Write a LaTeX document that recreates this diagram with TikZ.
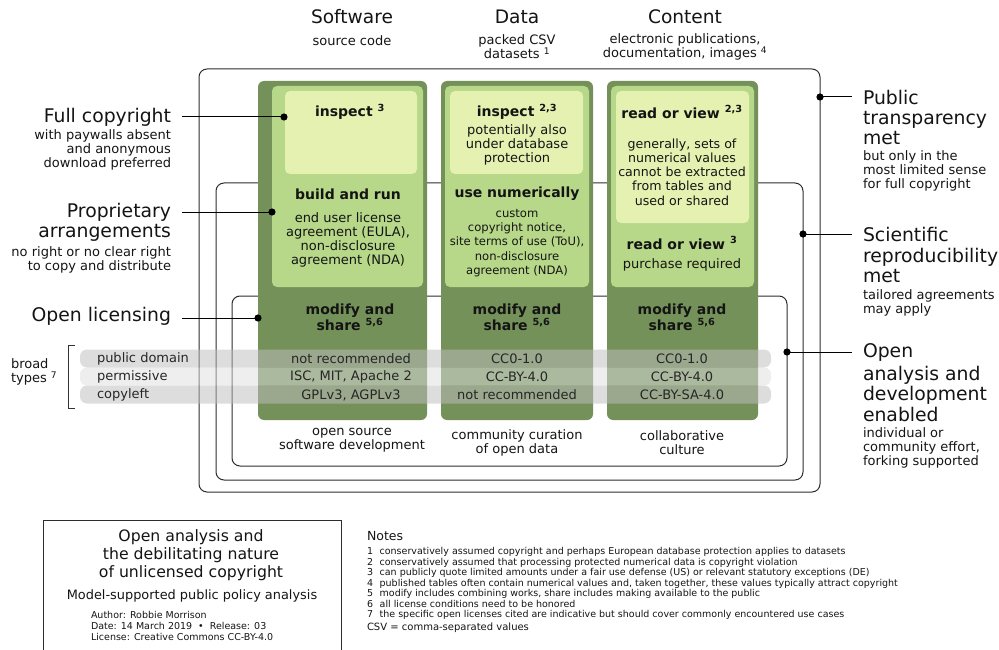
\documentclass[tikz,border=0pt]{standalone}
\usepackage{fontspec}
\setmainfont{DejaVu Sans}
\definecolor{darkgreen}{RGB}{117,145,90}
\definecolor{midgreen}{RGB}{183,216,137}
\definecolor{lightgreen}{RGB}{229,241,176}
\definecolor{framecol}{RGB}{45,45,45}
\definecolor{rowgray}{RGB}{190,190,190}
\definecolor{rowlight}{RGB}{222,222,222}
\definecolor{txt}{RGB}{20,20,20}
\begin{document}
\begin{tikzpicture}[x=1pt,y=-1pt,
  every node/.style={inner sep=0pt,outer sep=0pt,text=txt},
  frame/.style={draw=framecol,line width=1pt,rounded corners=8pt},
  darkbox/.style={fill=darkgreen,rounded corners=6pt},
  midbox/.style={fill=midgreen,rounded corners=5pt},
  lightbox/.style={fill=lightgreen,rounded corners=5pt},
  licrow/.style={fill=rowgray,fill opacity=0.52,rounded corners=7pt},
  licrowlight/.style={fill=rowlight,fill opacity=0.52,rounded corners=7pt},
  head/.style={font=\fontsize{18.6}{21}\selectfont},
  big/.style={font=\fontsize{18.8}{20.5}\selectfont},
  small/.style={font=\fontsize{13}{14}\selectfont,align=center},
  smallL/.style={font=\fontsize{13}{14}\selectfont,align=left},
  smallR/.style={font=\fontsize{13}{14}\selectfont,align=right},
  boxtitle/.style={font=\bfseries\fontsize{14}{15}\selectfont,align=center},
  rowtxt/.style={font=\fontsize{13}{14}\selectfont,text=black!85},
  conn/.style={draw=black,line width=1pt},
  dot/.style={fill=black}]
\useasboundingbox (0,0) rectangle (999,650);

% nested scopes: transparency, reproducibility, open analysis
\draw[frame] (199,69) rectangle (820,492);
\draw[frame] (216,183) rectangle (803,480);
\draw[frame] (232,296) rectangle (787,466);

% column headers
\node[head] (hsw) at (352,17) {Software};
\node[head] (hda) at (517,17) {Data};
\node[head] (hco) at (685,17) {Content};
\node[small] (ssw) at (352,41) {source code};
\node[small] (sda) at (517,47) {packed CSV\\datasets \textsuperscript{1}};
\node[small] (sco) at (685,47) {electronic publications,\\documentation, images \textsuperscript{4}};

% software column
\fill[darkbox] (258,81) rectangle (427,420);
\fill[midbox] (272,86) rectangle (423,287);
\fill[lightbox] (285,91) rectangle (417,174);
% data column
\fill[darkbox] (441,81) rectangle (593,420);
\fill[midbox] (445,86) rectangle (589,287);
\fill[lightbox] (450,91) rectangle (583,174);
% content column
\fill[darkbox] (607,81) rectangle (758,420);
\fill[midbox] (611,86) rectangle (754,287);
\fill[lightbox] (616,91) rectangle (749,223);

% software texts
\node[boxtitle] (sw1) at (350,112) {inspect \textsuperscript{3}};
\node[boxtitle] (sw2) at (348,194) {build and run};
\node[small] (sw3) at (348,240) {end user license\\agreement (EULA),\\non-disclosure\\agreement (NDA)};
\node[boxtitle] (sw4) at (350,317.5) {modify and\\share \textsuperscript{5,6}};
% data texts
\node[boxtitle] (da1) at (517,112) {inspect \textsuperscript{2,3}};
\node[small] (da2) at (517,145) {potentially also\\under database\\protection};
\node[boxtitle] (da3) at (517,194) {use numerically};
\node[font=\fontsize{11.6}{14.2}\selectfont,align=center] (da4) at (517,243) {custom\\copyright notice,\\site terms of use (ToU),\\non-disclosure\\agreement (NDA)};
\node[boxtitle] (da5) at (517,317.5) {modify and\\share \textsuperscript{5,6}};
% content texts
\node[boxtitle] (co1) at (682,112) {read or view \textsuperscript{2,3}};
\node[font=\fontsize{12.6}{14.2}\selectfont,align=center] (co2) at (682,172) {generally, sets of\\numerical values\\cannot be extracted\\from tables and\\used or shared};
\node[boxtitle] (co3) at (682,243) {read or view \textsuperscript{3}};
\node[small] (co4) at (682,265) {purchase required};
\node[boxtitle] (co5) at (682,317.5) {modify and\\share \textsuperscript{5,6}};

% licence type rows
\fill[licrow] (80,349.5) rectangle (771,367.5);
\fill[licrowlight] (80,367.5) rectangle (771,385.5);
\fill[licrow] (80,385.5) rectangle (771,403.5);
\node[rowtxt,anchor=west] (r1) at (97,359) {public domain};
\node[rowtxt,anchor=west] (r2) at (97,377) {permissive};
\node[rowtxt,anchor=west] (r3) at (97,395) {copyleft};
\node[rowtxt] (s1) at (351,359) {not recommended};
\node[rowtxt] (s2) at (351,377) {ISC, MIT, Apache 2};
\node[rowtxt] (s3) at (351,395) {GPLv3, AGPLv3};
\node[rowtxt] (d1) at (517,359) {CC0-1.0};
\node[rowtxt] (d2) at (517,377) {CC-BY-4.0};
\node[rowtxt] (d3) at (517,395) {not recommended};
\node[rowtxt] (c1) at (682,359) {CC0-1.0};
\node[rowtxt] (c2) at (682,377) {CC-BY-4.0};
\node[rowtxt] (c3) at (682,395) {CC-BY-SA-4.0};

% bracket for broad types
\draw[line width=1pt,draw=black!80] (75,345) -- (68,345) -- (68,408) -- (75,408);
\node[smallL,anchor=west] (bt) at (11,372) {broad\\types \textsuperscript{7}};

% column footers
\node[small] (fsw) at (352,440) {open source\\software development};
\node[small] (fda) at (517,443) {community curation\\of open data};
\node[small] (fco) at (682,443) {collaborative\\culture};

% left labels
\node[big,anchor=east] (fc) at (171,117) {Full copyright};
\node[smallR,anchor=east] (fcs) at (171,150) {with paywalls absent\\and anonymous\\download preferred};
\node[big,anchor=east] (pa) at (171,212) {Proprietary};
\node[big,anchor=east] (pa2) at (171,233) {arrangements};
\node[smallR,anchor=east] (pas) at (171,260) {no right or no clear right\\to copy and distribute};
\node[big,anchor=east] (ol) at (171,316) {Open licensing};

\coordinate (fcdot) at (284,117);
\coordinate (padot) at (272,212);
\coordinate (oldot) at (258,318);
\draw[conn] ([xshift=11pt]fc.east |- fcdot) -- (fcdot);
\draw[conn] ([xshift=11pt]pa.east |- padot) -- (padot);
\draw[conn] ([xshift=11pt]ol.east |- oldot) -- (oldot);
\fill[dot] (fcdot) circle (3.6);
\fill[dot] (padot) circle (3.6);
\fill[dot] (oldot) circle (3.6);

% right labels
\node[big,anchor=west] (pt) at (863,97) {Public};
\node[big,anchor=west,align=left] (pt2) at (863,128) {transparency\\met};
\node[smallL,anchor=west] (pts) at (863,171) {but only in the\\most limited sense\\for full copyright};
\node[big,anchor=west] (sr) at (863,234) {Scientific};
\node[big,anchor=west,align=left] (sr2) at (863,265.5) {reproducibility\\met};
\node[smallL,anchor=west] (srs) at (863,303) {tailored agreements\\may apply};
\node[big,anchor=west] (oa) at (863,352) {Open};
\node[big,anchor=west,align=left] (oa2) at (863,393.5) {analysis and\\development\\enabled};
\node[smallL,anchor=west] (oas) at (863,447.5) {individual or\\community effort,\\forking supported};

\coordinate (ptdot) at (820,97);
\coordinate (srdot) at (803,234);
\coordinate (oadot) at (787,352);
\draw[conn] (ptdot) -- ([xshift=-11pt]pt.west);
\draw[conn] (srdot) -- ([xshift=-11pt]sr.west);
\draw[conn] (oadot) -- ([xshift=-11pt]oa.west);
\fill[dot] (ptdot) circle (3.6);
\fill[dot] (srdot) circle (3.6);
\fill[dot] (oadot) circle (3.6);

% title block
\draw[draw=framecol,line width=0.9pt] (43,656) -- (43,520) -- (341,520) -- (341,656);
\node[font=\fontsize{15.7}{18}\selectfont,align=center] (tt) at (191,555) {Open analysis and\\the debilitating nature\\of unlicensed copyright};
\node[font=\fontsize{12.9}{14}\selectfont] (st) at (192,596) {Model-supported public policy analysis};
\node[font=\fontsize{9.5}{11}\selectfont,align=left,anchor=west] (au) at (91,626) {Author: Robbie Morrison\\Date: 14 March 2019 \ • \ Release: 03\\License: Creative Commons CC-BY-4.0};

% notes
\node[font=\fontsize{12.5}{14}\selectfont,anchor=west] (nt) at (367,536) {Notes};
\node[font=\fontsize{9.5}{10.45}\selectfont,align=left,anchor=west] (nl) at (367,583.5) {%
1\hspace{0.7em}conservatively assumed copyright and perhaps European database protection applies to datasets\\
2\hspace{0.7em}conservatively assumed that processing protected numerical data is copyright violation\\
3\hspace{0.7em}can publicly quote limited amounts under a fair use defense (US) or relevant statutory exceptions (DE)\\
4\hspace{0.7em}published tables often contain numerical values and, taken together, these values typically attract copyright\\
5\hspace{0.7em}modify includes combining works, share includes making available to the public\\
6\hspace{0.7em}all license conditions need to be honored\\
7\hspace{0.7em}the specific open licenses cited are indicative but should cover commonly encountered use cases};
\node[font=\fontsize{10}{11}\selectfont,anchor=west] (csv) at (367,628) {CSV = comma-separated values};
\end{tikzpicture}
\end{document}
